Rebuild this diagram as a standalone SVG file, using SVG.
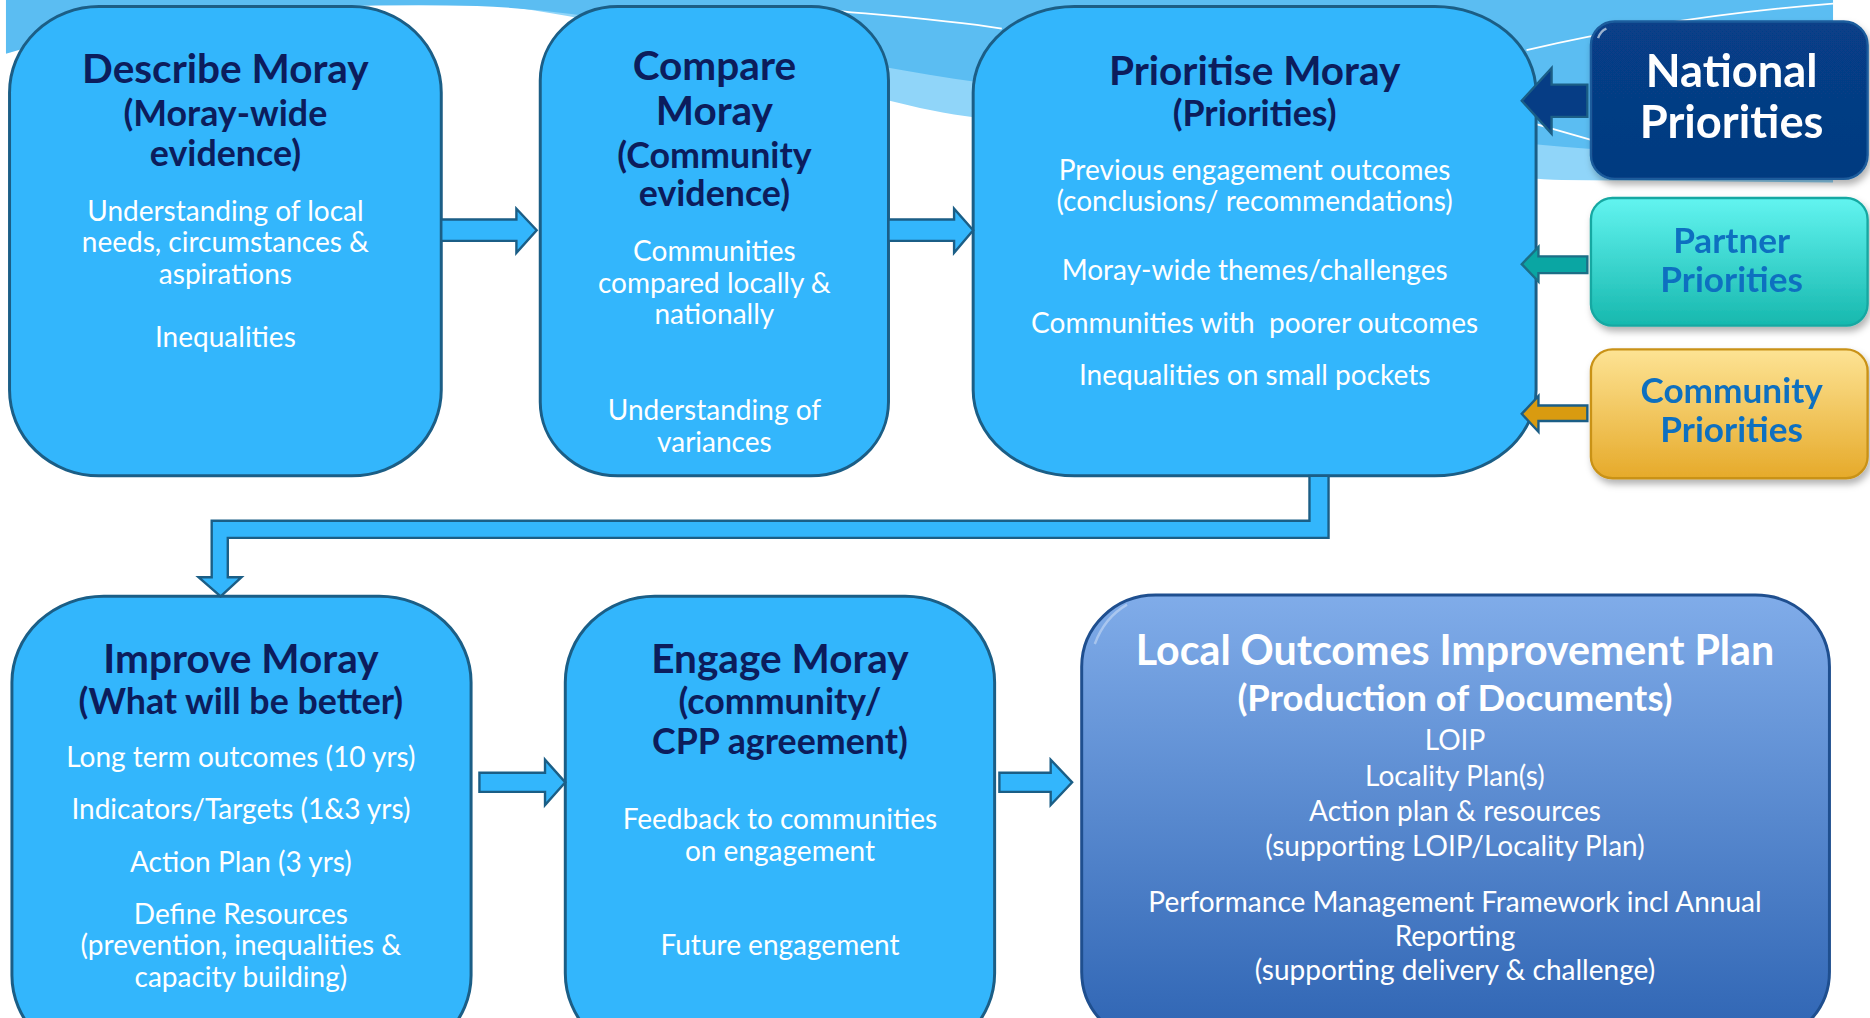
<svg xmlns="http://www.w3.org/2000/svg" width="1870" height="1018" viewBox="0 0 1870 1018">
<defs>
<style>
.box{fill:#33b6fc;stroke:#1b5e86;stroke-width:2.5}
.ttl{font-family:Lato,"Liberation Sans",sans-serif;font-weight:bold;fill:#0c1d5c;text-anchor:middle;font-size:34px}
.sub{font-family:Lato,"Liberation Sans",sans-serif;font-weight:bold;fill:#0c1d5c;text-anchor:middle;font-size:30px}
.txt{font-family:Lato,"Liberation Sans",sans-serif;fill:#ffffff;text-anchor:middle;font-size:23.5px}
.wt{font-family:Lato,"Liberation Sans",sans-serif;font-weight:bold;fill:#ffffff;text-anchor:middle}
.pt{font-family:Lato,"Liberation Sans",sans-serif;font-weight:bold;fill:#1170c0;text-anchor:middle;font-size:29.5px}
.arr{fill:#33b6fc;stroke:#1b5e86;stroke-width:2}
</style>
<linearGradient id="gPartner" x1="0" y1="0" x2="0" y2="1">
<stop offset="0" stop-color="#62f4f0"/><stop offset="1" stop-color="#17b8ae"/>
</linearGradient>
<linearGradient id="gComm" x1="0" y1="0" x2="0" y2="1">
<stop offset="0" stop-color="#fde394"/><stop offset="1" stop-color="#e6aa2a"/>
</linearGradient>
<linearGradient id="gNat" x1="0" y1="0" x2="0" y2="1">
<stop offset="0" stop-color="#073f88"/><stop offset="1" stop-color="#053a80"/>
</linearGradient>
<linearGradient id="gLoip" x1="0" y1="0" x2="0" y2="1">
<stop offset="0" stop-color="#80ace9"/><stop offset="1" stop-color="#2e64b3"/>
</linearGradient>
<filter id="sh" x="-10%" y="-10%" width="130%" height="130%">
<feDropShadow dx="2" dy="4" stdDeviation="3" flood-color="#000" flood-opacity="0.3"/>
</filter>
</defs>
<rect width="1870" height="1018" fill="#ffffff"/>
<g transform="scale(1.1926)">
<g id="background">
<path d="M430,6 C600,30 700,80 800,96 C1000,124 1200,146 1310,151 L1537,153 L1537,0 L430,0 Z" fill="#90d5f9"/>
<path d="M5,0 L1537,0 L1537,140 C1450,134 1380,128 1310,123 C1100,105 950,88 800,66 C650,42 520,10 400,5 Q150,0 5,45 Z" fill="#5bbdf2"/>
<path d="M690,8 C730,12 790,16 840,24" fill="none" stroke="#ffffff" stroke-width="1.5"/>
<path d="M1280,42 Q1400,14 1537,3" fill="none" stroke="#ffffff" stroke-width="1.5"/>
<path d="M1288,104 L1340,119" fill="none" stroke="#ffffff" stroke-width="1.5"/>
</g>
<g id="describe">
<rect class="box" x="8" y="5.5" width="362" height="393.5" rx="75" ry="72"/>
<text class="ttl" x="189" y="70">Describe Moray</text>
<text class="sub" x="189" y="106">(Moray-wide</text>
<text class="sub" x="189" y="139">evidence)</text>
<text class="txt" x="189" y="185">Understanding of local</text>
<text class="txt" x="189" y="211">needs, circumstances &amp;</text>
<text class="txt" x="189" y="238">aspirations</text>
<text class="txt" x="189" y="291">Inequalities</text>
</g>
<g id="compare">
<rect class="box" x="453" y="5.5" width="292" height="393.5" rx="65" ry="62"/>
<text class="ttl" x="599" y="67">Compare</text>
<text class="ttl" x="599" y="105">Moray</text>
<text class="sub" x="599" y="141">(Community</text>
<text class="sub" x="599" y="173">evidence)</text>
<text class="txt" x="599" y="219">Communities</text>
<text class="txt" x="599" y="246">compared locally &amp;</text>
<text class="txt" x="599" y="272">nationally</text>
<text class="txt" x="599" y="352">Understanding of</text>
<text class="txt" x="599" y="379">variances</text>
</g>
<g id="prioritise">
<rect class="box" x="816" y="5.5" width="472" height="393.5" rx="85" ry="72"/>
<text class="ttl" x="1052" y="71">Prioritise Moray</text>
<text class="sub" x="1052" y="106">(Priorities)</text>
<text class="txt" x="1052" y="151">Previous engagement outcomes</text>
<text class="txt" x="1052" y="177">(conclusions/ recommendations)</text>
<text class="txt" x="1052" y="235">Moray-wide themes/challenges</text>
<text class="txt" x="1052" y="279" xml:space="preserve">Communities with  poorer outcomes</text>
<text class="txt" x="1052" y="323">Inequalities on small pockets</text>
</g>
<g id="national" filter="url(#sh)">
<rect x="1334" y="18" width="232" height="132" rx="20" fill="url(#gNat)" stroke="#1a5c9c" stroke-width="2"/>
<path d="M1340,32 Q1342,26 1347,24" fill="none" stroke="#ffffff" stroke-width="2" opacity="0.6"/>
<text class="wt" x="1452" y="73" font-size="38">National</text>
<text class="wt" x="1452" y="116" font-size="38">Priorities</text>
</g>
<g id="partner" filter="url(#sh)">
<rect x="1334" y="166" width="232" height="107" rx="18" fill="url(#gPartner)" stroke="#17a8a2" stroke-width="2"/>
<text class="pt" x="1452" y="212">Partner</text>
<text class="pt" x="1452" y="245">Priorities</text>
</g>
<g id="community" filter="url(#sh)">
<rect x="1334" y="293" width="232" height="108" rx="18" fill="url(#gComm)" stroke="#c99218" stroke-width="2"/>
<text class="pt" x="1452" y="338">Community</text>
<text class="pt" x="1452" y="371">Priorities</text>
</g>
<g id="improve">
<rect class="box" x="10" y="500" width="385" height="390" rx="77" ry="72"/>
<text class="ttl" x="202" y="564">Improve Moray</text>
<text class="sub" x="202" y="599">(What will be better)</text>
<text class="txt" x="202" y="643">Long term outcomes (10 yrs)</text>
<text class="txt" x="202" y="687">Indicators/Targets (1&amp;3 yrs)</text>
<text class="txt" x="202" y="731">Action Plan (3 yrs)</text>
<text class="txt" x="202" y="775">Define Resources</text>
<text class="txt" x="202" y="801">(prevention, inequalities &amp;</text>
<text class="txt" x="202" y="828">capacity building)</text>
</g>
<g id="engage">
<rect class="box" x="474" y="500" width="360" height="388" rx="75" ry="72"/>
<text class="ttl" x="654" y="564">Engage Moray</text>
<text class="sub" x="654" y="599">(community/</text>
<text class="sub" x="654" y="632">CPP agreement)</text>
<text class="txt" x="654" y="695">Feedback to communities</text>
<text class="txt" x="654" y="722">on engagement</text>
<text class="txt" x="654" y="801">Future engagement</text>
</g>
<g id="loip">
<rect x="907" y="499" width="627" height="376" rx="62" ry="60" fill="url(#gLoip)" stroke="#1f4f8f" stroke-width="2.5"/>
<path d="M918,540 Q926,518 945,507" fill="none" stroke="#ffffff" stroke-width="2" opacity="0.35"/>
<text class="wt" x="1220" y="558" font-size="34.5">Local Outcomes Improvement Plan</text>
<text class="wt" x="1220" y="596" font-size="30.5">(Production of Documents)</text>
<text class="txt" x="1220" y="629">LOIP</text>
<text class="txt" x="1220" y="659">Locality Plan(s)</text>
<text class="txt" x="1220" y="688">Action plan &amp; resources</text>
<text class="txt" x="1220" y="718">(supporting LOIP/Locality Plan)</text>
<text class="txt" x="1220" y="765">Performance Management Framework incl Annual</text>
<text class="txt" x="1220" y="793">Reporting</text>
<text class="txt" x="1220" y="822">(supporting delivery &amp; challenge)</text>
</g>
<g id="connectors">
<polygon class="arr" points="370,184 433,184 433,175 450,193 433,212 433,202 370,202"/>
<polygon class="arr" points="745,184 800,184 800,175 816,193 800,212 800,202 745,202"/>
<polygon class="arr" points="1098,399 1114,399 1114,451 191,451 191,484 202.5,484 185,500 166.5,484 177.5,484 177.5,436.6 1098,436.6"/>
<polygon class="arr" points="402,648 457,648 457,637 474,656 457,675 457,664 402,664"/>
<polygon class="arr" points="838,648 881,648 881,637 899,656 881,675 881,664 838,664"/>
<polygon points="1331,71 1301,71 1301,57 1276,84.5 1301,112 1301,98 1331,98" fill="#063d85" stroke="#1b5e86" stroke-width="2"/>
<polygon points="1331,215 1290,215 1290,207 1276,221.5 1290,236 1290,229 1331,229" fill="#0aa6a3" stroke="#1b6e86" stroke-width="2"/>
<polygon points="1331,340 1290,340 1290,332 1276,347 1290,362 1290,353 1331,353" fill="#d99b10" stroke="#1b5e86" stroke-width="2"/>
</g>
</g>
</svg>
